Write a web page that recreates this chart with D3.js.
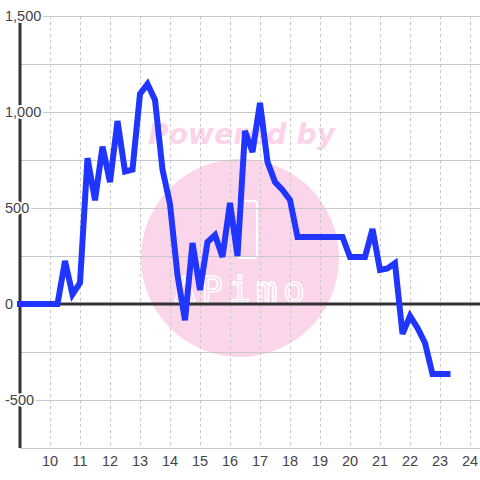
<!DOCTYPE html>
<html>
<head>
<meta charset="utf-8">
<script src="https://cdn.jsdelivr.net/npm/d3@7"></script>
<style>
  body { margin: 0; background: #fff; }
  text { font-family: "Liberation Sans", Arial, sans-serif; }
</style>
</head>
<body>
<script>
// chart size
var width = 480,
    height = 480;

// hour of day for each sample
var hours = [9, 9.25, 9.5, 9.75, 10, 10.25, 10.5, 10.75, 11, 11.25, 11.5, 11.75,
    12, 12.25, 12.5, 12.75, 13, 13.25, 13.5, 13.75, 14, 14.25, 14.5, 14.75,
    15, 15.25, 15.5, 15.75, 16, 16.25, 16.5, 16.75, 17, 17.25, 17.5, 17.75,
    18, 18.25, 18.5, 18.75, 19, 19.25, 19.5, 19.75, 20, 20.25, 20.5, 20.75,
    21, 21.25, 21.5, 21.75, 22, 22.25, 22.5, 22.75, 23, 23.25];

// value for each hour
var values = [0, 0, 0, 0, 0, 0, 224, 50, 110, 760, 540, 820,
    635, 953, 690, 700, 1094, 1146, 1063, 700, 520, 150, -85, 318,
    73, 323, 359, 245, 526, 250, 901, 792, 1047, 740, 635, 594,
    542, 349, 349, 349, 349, 349, 349, 349, 245, 245, 245, 390,
    177, 185, 213, -156, -63, -125, -203, -365, -365, -365];

// tick labels
var xTicks = [10, 11, 12, 13, 14, 15, 16, 17, 18, 19, 20, 21, 22, 23, 24];
var yTicks = [-500, 0, 500, 1000, 1500];
var yGrid = [-750, -500, -250, 0, 250, 500, 750, 1000, 1250, 1500];

var svg = d3.select("body").append("svg")
    .attr("width", width)
    .attr("height", height);

var x = d3.scaleLinear()
    .domain([9, 9 + 460 / 30])
    .range([20, 480]);

var y = d3.scaleLinear()
    .domain([-750, 1500])
    .range([448, 16]);

// watermark behind everything
var wm = svg.append("g").attr("class", "watermark");
wm.append("circle")
    .attr("cx", 240)
    .attr("cy", 258)
    .attr("r", 99)
    .attr("fill", "#fbd6eb");
wm.append("text")
    .attr("x", 148)
    .attr("y", 144)
    .attr("textLength", 187)
    .attr("font-size", 28)
    .attr("font-weight", "bold")
    .attr("font-style", "italic")
    .attr("fill", "#fbd3ea")
    .style("font-family", "'DejaVu Sans', sans-serif")
    .text("Powered by");
wm.append("rect")
    .attr("x", 238)
    .attr("y", 201)
    .attr("width", 19)
    .attr("height", 57)
    .attr("rx", 3)
    .attr("fill", "none")
    .attr("stroke", "#fff")
    .attr("stroke-width", 2);
wm.append("text")
    .attr("x", 174)
    .attr("y", 302)
    .attr("textLength", 131)
    .attr("font-size", 36)
    .attr("fill", "none")
    .attr("stroke", "#fff")
    .attr("stroke-width", 1.5)
    .style("font-family", "'DejaVu Sans Mono', monospace")
    .text("APimo");

// horizontal grid
svg.append("g")
    .selectAll("line")
    .data(yGrid)
    .enter().append("line")
    .attr("x1", x.range()[0])
    .attr("x2", x.range()[1])
    .attr("y1", function(d) { return y(d); })
    .attr("y2", function(d) { return y(d); })
    .attr("stroke", "#c8c8c8")
    .attr("stroke-width", 1)
    .attr("shape-rendering", "crispEdges");

// vertical dashed grid
svg.append("g")
    .selectAll("line")
    .data(xTicks)
    .enter().append("line")
    .attr("x1", function(d) { return x(d); })
    .attr("x2", function(d) { return x(d); })
    .attr("y1", y(1500))
    .attr("y2", y(-750))
    .attr("stroke", "#c8c8c8")
    .attr("stroke-width", 1)
    .attr("stroke-dasharray", "3,3")
    .attr("shape-rendering", "crispEdges");

// zero line
svg.append("line")
    .attr("x1", x.range()[0])
    .attr("x2", x.range()[1])
    .attr("y1", y(0))
    .attr("y2", y(0))
    .attr("stroke", "#333")
    .attr("stroke-width", 3);

// y axis line
svg.append("line")
    .attr("x1", x(9))
    .attr("x2", x(9))
    .attr("y1", y(1500))
    .attr("y2", y(-750))
    .attr("stroke", "#333")
    .attr("stroke-width", 3);

// the series
var line = d3.line()
    .x(function(d, i) { return x(hours[i]); })
    .y(function(d) { return y(d); });

svg.append("path")
    .datum(values)
    .attr("d", line)
    .attr("fill", "none")
    .attr("stroke", "#2036ff")
    .attr("stroke-width", 6)
    .attr("stroke-linejoin", "miter")
    .attr("stroke-linecap", "square");

// y labels, with a white halo that cuts the axis line
svg.append("g")
    .selectAll("text")
    .data(yTicks)
    .enter().append("text")
    .attr("x", 5)
    .attr("y", function(d) { return y(d); })
    .attr("dy", "0.35em")
    .attr("font-size", 14.5)
    .attr("fill", "#444")
    .attr("stroke", "#fff")
    .attr("stroke-width", 4)
    .attr("paint-order", "stroke")
    .text(function(d) { return d3.format(",")(d).replace("−", "-"); });

// x labels
svg.append("g")
    .selectAll("text")
    .data(xTicks)
    .enter().append("text")
    .attr("x", function(d) { return x(d); })
    .attr("y", 466)
    .attr("text-anchor", "middle")
    .attr("font-size", 14.5)
    .attr("fill", "#444")
    .text(function(d) { return d; });
</script>
</body>
</html>
